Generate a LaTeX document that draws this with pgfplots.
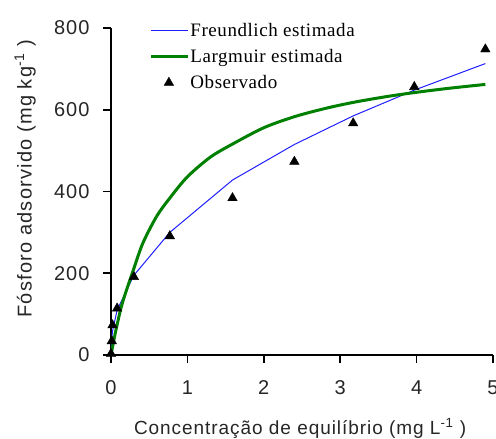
\documentclass[border=0pt]{standalone}
\usepackage{fontspec}
\setmainfont{Liberation Sans}
\newfontfamily\labelfont[LetterSpace=5]{Liberation Sans}
\newfontfamily\ylabelfont[LetterSpace=6]{Liberation Sans}
\newfontfamily\legendfont[LetterSpace=3]{Liberation Serif}
\usepackage{pgfplots}
\pgfplotsset{compat=1.18}
\definecolor{freundblue}{RGB}{30,30,255}
\definecolor{langgreen}{RGB}{0,128,0}
\pgfplotsset{
  lineleg/.style={legend image code/.code={\draw[##1] (0bp,0bp) -- (37bp,0bp);}},
  markleg/.style={legend image code/.code={\draw[##1] plot coordinates {(18bp,0bp)};}},
}
\begin{document}
\begin{tikzpicture}
\begin{axis}[
  scale only axis,
  width=382bp, height=327bp,
  xmin=0, xmax=5, ymin=0, ymax=800,
  xtick={0,1,2,3,4,5}, ytick={0,200,400,600,800},
  axis lines*=left,
  axis line style={line width=2.6bp, black},
  tick style={line width=1.6bp, black},
  tick align=outside,
  major tick length=8bp,
  /pgf/number format/assume math mode=true,
  ticklabel style={font=\labelfont\fontsize{20bp}{22bp}\selectfont, text=black!85},
  xticklabel style={yshift=-14bp},
  yticklabel style={xshift=-10bp},
  xlabel={Concentração de equilíbrio (mg L\textsuperscript{-1} )},
  ylabel={Fósforo adsorvido (mg kg\textsuperscript{-1} )},
  label style={font=\labelfont\fontsize{19bp}{22bp}\selectfont, text=black!85},
  xlabel style={at={(axis description cs:0.495,-0.225)}, anchor=center},
  ylabel style={at={(axis description cs:-0.225,0.54)}, anchor=center,
    font=\ylabelfont\fontsize{20bp}{22bp}\selectfont},
  legend style={at={(rel axis cs:0.1,1.019)}, anchor=north west,
    draw=none, fill=none, font=\legendfont\fontsize{19bp}{21bp}\selectfont,
    row sep=9.5bp, inner sep=0pt,
    nodes={inner sep=1bp}},
  legend cell align=left,
  clip=false,
]
% Freundlich fit, joined through the fitted values
\addplot[freundblue, line width=1bp, lineleg]
  coordinates {(0,0) (0.01,40) (0.02,58) (0.08,110) (0.30,195) (0.77,300)
    (1.59,428) (2.40,515) (3.17,585) (3.97,648) (4.90,713)};
\addlegendentry{Freundlich estimada}
% Langmuir fit
\addplot[langgreen, line width=3bp, smooth, lineleg]
  coordinates {(0,0) (0.01,10) (0.02,20) (0.05,48) (0.08,74) (0.15,128)
    (0.30,212) (0.42,275) (0.60,340) (0.77,384) (1.00,436) (1.30,484) (1.59,516)
    (2.00,556) (2.40,583) (2.80,603) (3.17,618) (3.60,632) (3.97,642)
    (4.40,652) (4.90,662)};
\addlegendentry{Largmuir estimada}
% measured values
\addplot[only marks, mark=triangle*, mark size=5.5bp, black, markleg]
  coordinates {(0,3) (0.01,34) (0.02,73) (0.08,114) (0.30,191) (0.77,291)
    (1.59,384) (2.40,473) (3.17,567) (3.97,656) (4.90,748)};
\addlegendentry{Observado}
\end{axis}
\pgfresetboundingbox
\path[use as bounding box] (-111bp,-84bp) rectangle (385bp,355bp);
\end{tikzpicture}
\end{document}
